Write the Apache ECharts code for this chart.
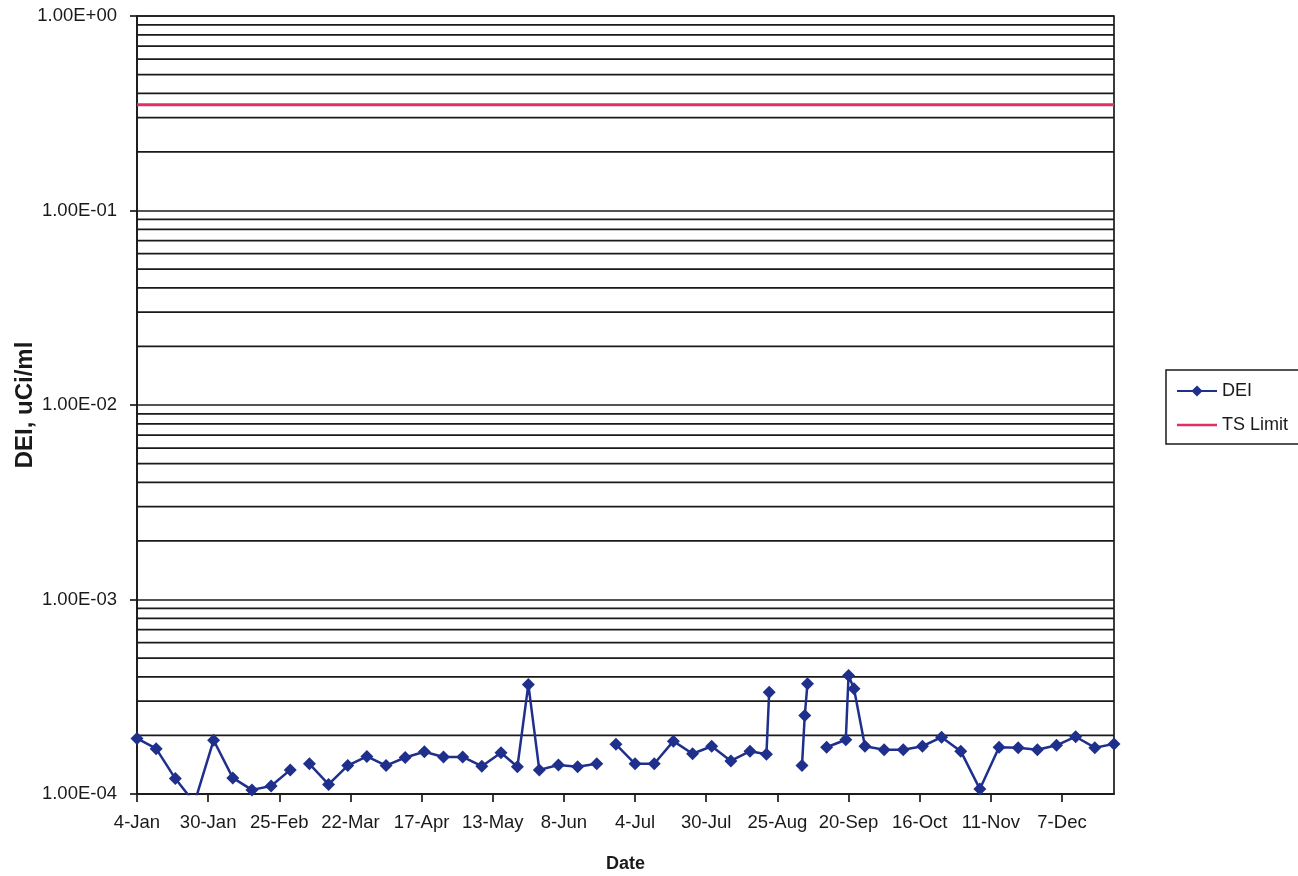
<!DOCTYPE html>
<html>
<head>
<meta charset="utf-8">
<script src="https://cdn.jsdelivr.net/npm/echarts@6/dist/echarts.min.js"></script>
<style>
html,body{margin:0;padding:0;background:#fff;}
#chart{width:1298px;height:876px;}
</style>
</head>
<body>
<div id="chart"></div>
<script>
// Days since 4-Jan (leap year); null value = gap in the line
const dayOffsets = [0, 7, 14, 21, 28, 35, 42, 49, 56, 60, 63, 70, 77, 84, 91, 98, 105, 112, 119, 126, 133, 139, 143, 147, 154, 161, 168, 171, 175, 182, 189, 196, 203, 210, 217, 224, 230, 231, 238, 243, 244, 245, 248, 252, 259, 260, 262, 266, 273, 280, 287, 294, 301, 308, 315, 322, 329, 336, 343, 350, 357];
const deiValues = [1.93e-4, 1.71e-4, 1.20e-4, 0.90e-4, 1.89e-4, 1.21e-4, 1.05e-4, 1.10e-4, 1.33e-4, null, 1.43e-4, 1.12e-4, 1.40e-4, 1.56e-4, 1.40e-4, 1.54e-4, 1.65e-4, 1.55e-4, 1.55e-4, 1.39e-4, 1.63e-4, 1.38e-4, 3.66e-4, 1.33e-4, 1.41e-4, 1.38e-4, 1.43e-4, null, 1.80e-4, 1.43e-4, 1.43e-4, 1.87e-4, 1.61e-4, 1.76e-4, 1.48e-4, 1.66e-4, 1.60e-4, 3.34e-4, null, 1.40e-4, 2.53e-4, 3.69e-4, null, 1.74e-4, 1.90e-4, 4.07e-4, 3.48e-4, 1.76e-4, 1.69e-4, 1.69e-4, 1.76e-4, 1.96e-4, 1.66e-4, 1.06e-4, 1.74e-4, 1.73e-4, 1.69e-4, 1.78e-4, 1.97e-4, 1.73e-4, 1.81e-4];
const tsLimitDays = [0, 357];
const tsLimitValues = [0.35, 0.35];
const xTickLabels = ['4-Jan', '30-Jan', '25-Feb', '22-Mar', '17-Apr', '13-May', '8-Jun', '4-Jul', '30-Jul', '25-Aug', '20-Sep', '16-Oct', '11-Nov', '7-Dec'];
const xTickInterval = 26;
const xMax = 357;
const yTickLabels = ['1.00E-04', '1.00E-03', '1.00E-02', '1.00E-01', '1.00E+00'];
const yMinExp = -4;
// minor gridline values (2..9 x each decade)
const minorGridValues = [];
for (let e = -4; e <= -1; e++) for (let k = 2; k <= 9; k++) minorGridValues.push(+(k * Math.pow(10, e)).toPrecision(3));

const FONT = "'Liberation Sans', Arial, sans-serif";
const INK = '#1a1a1a';
const GRIDW = 1.7;

// gridlines as one broken line series: each value spans the full x range
const gridData = [];
minorGridValues.forEach(v => { gridData.push([0, v], [xMax, v], [xMax, '-']); });

const chart = echarts.init(document.getElementById('chart'), null, {renderer: 'canvas'});
chart.setOption({
  backgroundColor: '#fff',
  animation: false,
  grid: {left: 137, right: 184, top: 16, bottom: 82, outerBoundsMode: 'none', containLabel: false,
         show: true, borderColor: INK, borderWidth: GRIDW, backgroundColor: 'transparent'},
  legend: {
    orient: 'vertical', left: 1166, top: 370,
    padding: [12, 12, 10, 10], itemGap: 16, itemWidth: 40, itemHeight: 14,
    borderColor: INK, borderWidth: 1.5,
    data: [
      {name: 'DEI'},
      {name: 'TS Limit', icon: 'path://M0,0L0.01,0L0,0.01Z M0,14L0.01,14L0,13.99Z M0,5.8L40,5.8L40,8.2L0,8.2Z'}
    ],
    textStyle: {fontFamily: FONT, fontSize: 18, color: INK}
  },
  xAxis: {
    type: 'value', min: 0, max: xMax, interval: xTickInterval,
    name: 'Date', nameLocation: 'middle', nameGap: 61, nameMoveOverlap: false,
    nameTextStyle: {fontFamily: FONT, fontSize: 18, fontWeight: 'bold', color: INK},
    axisLine: {show: true, lineStyle: {color: INK, width: GRIDW}},
    axisTick: {show: true, length: 8, lineStyle: {color: INK, width: GRIDW}},
    splitLine: {show: false},
    axisLabel: {
      fontFamily: FONT, fontSize: 18.5, color: INK, margin: 19, showMaxLabel: false, hideOverlap: false,
      formatter: v => (v % xTickInterval === 0 && xTickLabels[v / xTickInterval]) ? xTickLabels[v / xTickInterval] : ''
    }
  },
  yAxis: {
    type: 'log', logBase: 10, min: 1e-4, max: 1,
    name: 'DEI, uCi/ml', nameLocation: 'middle', nameGap: 100, nameRotate: 90, nameMoveOverlap: false,
    nameTextStyle: {fontFamily: FONT, fontSize: 24, fontWeight: 'bold', color: INK},
    axisLine: {show: true, lineStyle: {color: INK, width: GRIDW}},
    axisTick: {show: true, length: 7, lineStyle: {color: INK, width: GRIDW}},
    splitLine: {show: true, lineStyle: {color: INK, width: GRIDW}},
    axisLabel: {
      fontFamily: FONT, fontSize: 18.5, color: INK, margin: 20, padding: [5, 0, 0, 0],
      formatter: v => yTickLabels[Math.round(Math.log10(v)) - yMinExp]
    }
  },
  series: [
    {
      name: 'grid', type: 'line', data: gridData, silent: true, z: 1,
      symbol: 'none', showSymbol: false, connectNulls: false,
      lineStyle: {color: INK, width: GRIDW}, emphasis: {disabled: true}
    },
    {
      name: 'TS Limit', type: 'line', z: 3,
      data: tsLimitDays.map((d, i) => [d, tsLimitValues[i]]),
      showSymbol: false, symbol: 'none',
      lineStyle: {color: '#e0305e', width: 3}, itemStyle: {color: '#e0305e'}
    },
    {
      name: 'DEI', type: 'line', z: 4, clip: true,
      data: dayOffsets.map((d, i) => [d, deiValues[i] === null ? '-' : deiValues[i]]),
      symbol: 'diamond', symbolSize: 13, connectNulls: false,
      lineStyle: {color: '#1f2f8c', width: 2.5}, itemStyle: {color: '#1f2f8c'}
    }
  ]
});
</script>
</body>
</html>
